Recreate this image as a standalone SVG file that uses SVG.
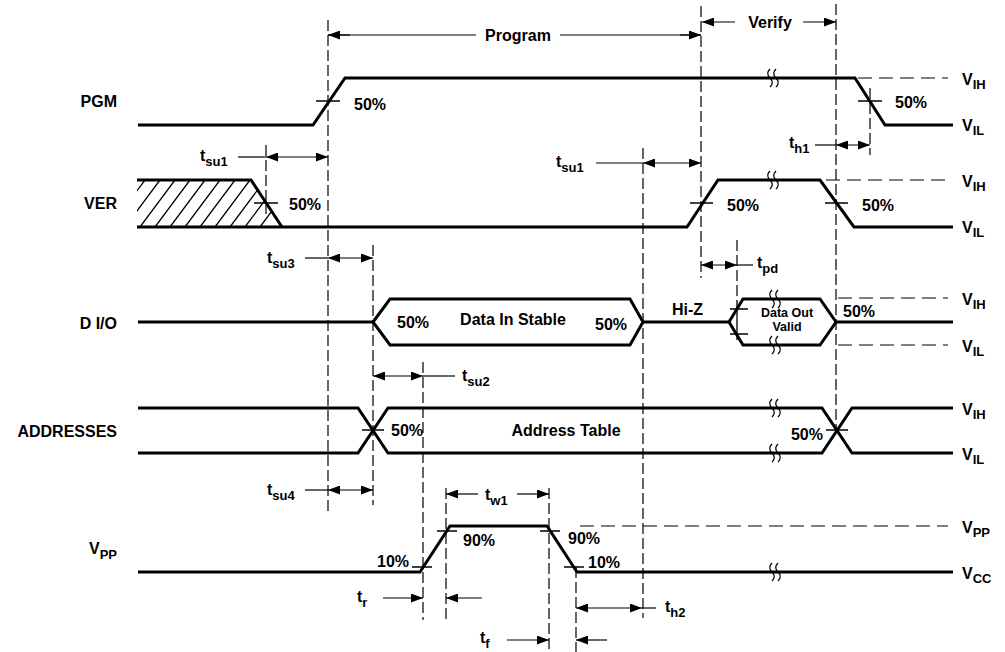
<svg xmlns="http://www.w3.org/2000/svg" width="1005" height="652" viewBox="0 0 1005 652">
<style>
text{font-family:"Liberation Sans",Arial,sans-serif;font-weight:bold;fill:#000}
.lbl{font-size:16px}
.sub{font-size:13px}
.small{font-size:12.5px}
.sig{fill:none;stroke:#000;stroke-width:3;stroke-linejoin:miter}
.guide{fill:none;stroke:#000;stroke-width:1.2;stroke-dasharray:11 4}
.ref{fill:none;stroke:#000;stroke-width:1.2;stroke-dasharray:14 7}
.dim{fill:none;stroke:#000;stroke-width:1.2}
.tick{fill:none;stroke:#000;stroke-width:1.3}
.hatch{fill:none;stroke:#000;stroke-width:1.3}
</style>
<defs>
<marker id="ah" viewBox="0 0 12 9" markerWidth="12" markerHeight="9" refX="12" refY="4.5" orient="auto-start-reverse" markerUnits="userSpaceOnUse">
<path d="M0,0 L12,4.5 L0,9 z" fill="#000"/>
</marker>
<clipPath id="hclip"><polygon points="137,180 251,180 282,227 137,227"/></clipPath>
<path id="brk" d="M-3,-9 c-3,3 -3,6 0,9 c3,3 3,6 0,9 M3,-9 c-3,3 -3,6 0,9 c3,3 3,6 0,9" fill="none" stroke="#000" stroke-width="1.3"/>
</defs>

<!-- left signal names -->
<g id="names" text-anchor="end">
<text class="lbl" x="117" y="107">PGM</text>
<text class="lbl" x="117" y="209">VER</text>
<text class="lbl" x="117" y="329">D I/O</text>
<text class="lbl" x="117" y="437">ADDRESSES</text>
<text class="lbl" x="117" y="554">V<tspan class="sub" dy="5">PP</tspan></text>
</g>

<!-- PGM -->
<g id="pgm">
<path class="sig" d="M138,125 H313 L345,78 H855 L885,125 H953"/>
<use href="#brk" x="773" y="78"/>
<path class="ref" d="M858,78 H948"/>
<path class="tick" d="M316,101 H340 M858,101 H882"/>
<text class="lbl" x="354" y="110">50%</text>
<text class="lbl" x="895" y="108">50%</text>
<text class="lbl" x="962" y="85">V<tspan class="sub" dy="4">IH</tspan></text>
<text class="lbl" x="962" y="131">V<tspan class="sub" dy="4">IL</tspan></text>
</g>

<!-- VER -->
<g id="ver">
<g clip-path="url(#hclip)">
<path class="hatch" d="M110,227 l35,-47 M125,227 l35,-47 M140,227 l35,-47 M155,227 l35,-47 M170,227 l35,-47 M185,227 l35,-47 M200,227 l35,-47 M215,227 l35,-47 M230,227 l35,-47 M245,227 l35,-47 M260,227 l35,-47"/>
</g>
<path class="sig" d="M137,180 H251 L282,227"/>
<path class="sig" d="M137,227 H687 L718,180 H820 L854,227 H953"/>
<use href="#brk" x="773" y="180"/>
<path class="ref" d="M826,180 H948"/>
<path class="tick" d="M254,203 H278 M690,203 H713 M825,203 H848"/>
<text class="lbl" x="289" y="210">50%</text>
<text class="lbl" x="727" y="211">50%</text>
<text class="lbl" x="862" y="211">50%</text>
<text class="lbl" x="962" y="187">V<tspan class="sub" dy="4">IH</tspan></text>
<text class="lbl" x="962" y="233">V<tspan class="sub" dy="4">IL</tspan></text>
</g>

<!-- D I/O -->
<g id="dio">
<path class="sig" d="M138,322 H373 M373,322 L390,299 H630 L643,322 L630,345 H390 Z M643,322 H729 M729,322 L743,299 H820 L836,322 L820,345 H743 Z M836,322 H953"/>
<use href="#brk" x="775" y="299"/>
<use href="#brk" x="775" y="345"/>
<path class="ref" d="M838,298 H948 M838,345 H948"/>
<path class="tick" d="M730,309 H748 M730,334 H748 M737,300 V340"/>
<text class="lbl" x="397" y="328">50%</text>
<text class="lbl" x="513" y="325" text-anchor="middle">Data In Stable</text>
<text class="lbl" x="595" y="330">50%</text>
<text class="lbl" x="672" y="315">Hi-Z</text>
<text class="small" x="787" y="317" text-anchor="middle">Data Out</text>
<text class="small" x="787" y="331" text-anchor="middle">Valid</text>
<text class="lbl" x="843" y="317">50%</text>
<text class="lbl" x="962" y="305">V<tspan class="sub" dy="4">IH</tspan></text>
<text class="lbl" x="962" y="352">V<tspan class="sub" dy="4">IL</tspan></text>
</g>

<!-- ADDRESSES -->
<g id="addresses">
<path class="sig" d="M138,408 H358 L388,453 H822 L852,408 H953"/>
<path class="sig" d="M138,453 H358 L388,408 H822 L852,453 H953"/>
<use href="#brk" x="775" y="408"/>
<use href="#brk" x="775" y="453"/>
<path class="tick" d="M362,430 H384 M826,430 H848"/>
<text class="lbl" x="391" y="436">50%</text>
<text class="lbl" x="566" y="436" text-anchor="middle">Address Table</text>
<text class="lbl" x="823" y="440" text-anchor="end">50%</text>
<text class="lbl" x="962" y="415">V<tspan class="sub" dy="4">IH</tspan></text>
<text class="lbl" x="962" y="460">V<tspan class="sub" dy="4">IL</tspan></text>
</g>

<!-- VPP -->
<g id="vpp">
<path class="sig" d="M138,572 H420 L450,526 H547 L577,572 H953"/>
<use href="#brk" x="775" y="572"/>
<path class="ref" d="M580,526 H948"/>
<path class="tick" d="M412,567 H432 M437,531 H457 M540,531 H560 M564,567 H584"/>
<text class="lbl" x="377" y="567">10%</text>
<text class="lbl" x="463" y="546">90%</text>
<text class="lbl" x="568" y="544">90%</text>
<text class="lbl" x="588" y="568">10%</text>
<text class="lbl" x="962" y="533">V<tspan class="sub" dy="4">PP</tspan></text>
<text class="lbl" x="962" y="579">V<tspan class="sub" dy="4">CC</tspan></text>
</g>

<!-- connectors: guide lines and timing arrows -->
<g id="connectors">
<path class="guide" d="M328,20 V512 M701,6 V278 M836,4 V432 M266,145 V214 M643,148 V618 M373,245 V505 M423,362 V620 M446,488 V620 M549,488 V652 M576,567 V652 M870,88 V155 M737,240 V300"/>

<path class="dim" d="M328,35 H476 M560,35 H701" />
<path class="dim" d="M328,35 H350" marker-start="url(#ah)"/>
<path class="dim" d="M680,35 H701" marker-end="url(#ah)"/>
<text class="lbl" x="518" y="41" text-anchor="middle">Program</text>

<path class="dim" d="M702,22 H735" marker-start="url(#ah)"/>
<path class="dim" d="M803,22 H836" marker-end="url(#ah)"/>
<text class="lbl" x="770" y="28" text-anchor="middle">Verify</text>

<path class="dim" d="M266,157 H328" marker-start="url(#ah)" marker-end="url(#ah)"/>
<path class="dim" d="M238,157 H266"/>
<text class="lbl" x="200" y="161">t<tspan class="sub" dy="5">su1</tspan></text>

<path class="dim" d="M643,163 H701" marker-start="url(#ah)" marker-end="url(#ah)"/>
<path class="dim" d="M596,163 H643"/>
<text class="lbl" x="556" y="167">t<tspan class="sub" dy="5">su1</tspan></text>

<path class="dim" d="M836,145 H870" marker-start="url(#ah)" marker-end="url(#ah)"/>
<path class="dim" d="M815,145 H836"/>
<text class="lbl" x="789" y="148">t<tspan class="sub" dy="5">h1</tspan></text>

<path class="dim" d="M328,258 H373" marker-start="url(#ah)" marker-end="url(#ah)"/>
<path class="dim" d="M305,258 H328"/>
<text class="lbl" x="267" y="263">t<tspan class="sub" dy="5">su3</tspan></text>

<path class="dim" d="M701,265 H737" marker-start="url(#ah)" marker-end="url(#ah)"/>
<path class="dim" d="M737,265 H753"/>
<text class="lbl" x="757" y="268">t<tspan class="sub" dy="5">pd</tspan></text>

<path class="dim" d="M373,376 H423" marker-start="url(#ah)" marker-end="url(#ah)"/>
<path class="dim" d="M423,376 H455"/>
<text class="lbl" x="462" y="381">t<tspan class="sub" dy="5">su2</tspan></text>

<path class="dim" d="M328,490 H373" marker-start="url(#ah)" marker-end="url(#ah)"/>
<path class="dim" d="M305,490 H328"/>
<text class="lbl" x="267" y="495">t<tspan class="sub" dy="5">su4</tspan></text>

<path class="dim" d="M446,494 H478" marker-start="url(#ah)"/>
<path class="dim" d="M517,494 H549" marker-end="url(#ah)"/>
<text class="lbl" x="485" y="500">t<tspan class="sub" dy="5">w1</tspan></text>

<path class="dim" d="M383,598 H423" marker-end="url(#ah)"/>
<path class="dim" d="M482,598 H446" marker-end="url(#ah)"/>
<text class="lbl" x="357" y="602">t<tspan class="sub" dy="5">r</tspan></text>

<path class="dim" d="M576,608 H642" marker-start="url(#ah)" marker-end="url(#ah)"/>
<path class="dim" d="M642,608 H656"/>
<text class="lbl" x="665" y="612">t<tspan class="sub" dy="5">h2</tspan></text>

<path class="dim" d="M507,640 H549" marker-end="url(#ah)"/>
<path class="dim" d="M607,640 H576" marker-end="url(#ah)"/>
<text class="lbl" x="480" y="643">t<tspan class="sub" dy="5">f</tspan></text>
</g>
</svg>
